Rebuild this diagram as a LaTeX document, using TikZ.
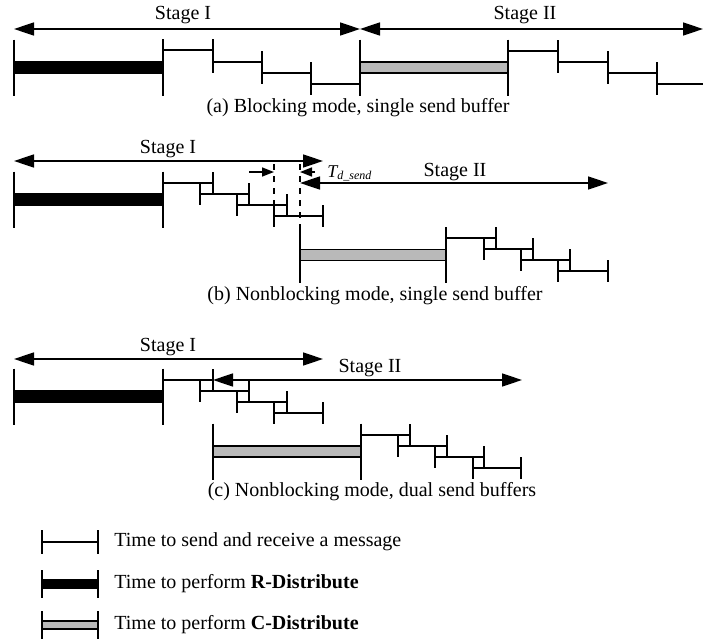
\documentclass[tikz,border=0pt]{standalone}
\usepackage{fontspec}
\setmainfont{Liberation Serif}
\usetikzlibrary{arrows.meta}

% one message: start tick, line, end tick
\newcommand{\sendmsg}[3]{\draw[msg] (#1,#3-11) -- (#1,#3+11) (#1,#3) -- (#2,#3) (#2,#3-11) -- (#2,#3+11);}
% a distribute phase: bar with tall end ticks
\newcommand{\distbar}[4]{%
  \draw[#1] (#2,#4-5.5) rectangle (#3,#4+5.5);
  \draw[msg] (#2,#4-28) -- (#2,#4+28) (#3,#4-28) -- (#3,#4+28);}

\begin{document}
\begin{tikzpicture}[
    x=0.5pt, y=-0.5pt,
    msg/.style={line width=0.8pt},
    rbar/.style={fill=black, draw=black, line width=0.8pt},
    cbar/.style={fill=gray!55, draw=black, line width=0.8pt},
    stagearrow/.style={line width=0.8pt, {Triangle[length=10pt,width=6.5pt]}-{Triangle[length=10pt,width=6.5pt]}},
    tdarrow/.style={line width=0.8pt, -{Triangle[length=6pt,width=4.5pt]}},
    stagelabel/.style={font=\normalsize, inner sep=1pt},
    caption/.style={font=\normalsize, inner sep=1pt},
    legendtext/.style={font=\normalsize, anchor=west, inner sep=1pt}
]
\useasboundingbox (0,0) rectangle (703,643);

% (a) blocking mode
\draw[stagearrow] (14,29) -- (360,29);
\draw[stagearrow] (360,29) -- (703,29);
\node[stagelabel] (aI) at (183,15) {Stage I};
\node[stagelabel] (aII) at (525,15) {Stage II};
\distbar{rbar}{14}{163}{67.5}
\sendmsg{163}{213}{50}
\sendmsg{213}{262}{62}
\sendmsg{262}{311}{73}
\sendmsg{311}{360}{84}
\distbar{cbar}{360}{508}{67.5}
\sendmsg{508}{558}{51}
\sendmsg{558}{608}{62}
\sendmsg{608}{657}{73}
\draw[msg] (657,73) -- (657,95) (657,84) -- (703,84);
\node[caption] (acap) at (358,108) {(a) Blocking mode, single send buffer};

% (b) nonblocking mode, single buffer
\draw[stagearrow] (14,161) -- (323,161);
\node[stagelabel] (bI) at (168,149) {Stage I};
\distbar{rbar}{14}{163}{199.5}
\sendmsg{163}{213}{183}
\sendmsg{200}{249}{194}
\sendmsg{237}{287}{205}
\sendmsg{274}{323}{216}
\draw[msg, dashed] (274,164) -- (274,205);
\draw[msg, dashed] (300,164) -- (300,227);
\draw[tdarrow] (249,172) -- (274,172);
\draw[tdarrow] (315,172) -- (300,172);
\node[anchor=west, inner sep=1pt] (td) at (325,173) {\small\itshape T\textsubscript{d\_send}};
\draw[stagearrow] (300,183) -- (608,183);
\node[stagelabel] (bII) at (455,172) {Stage II};
\distbar{cbar}{300}{446}{255}
\sendmsg{446}{496}{238}
\sendmsg{484}{533}{249}
\sendmsg{521}{570}{260}
\sendmsg{558}{608}{271}
\node[caption] (bcap) at (375,296) {(b) Nonblocking mode, single send buffer};

% (c) nonblocking mode, dual buffers
\draw[stagearrow] (14,359) -- (323,359);
\node[stagelabel] (cI) at (168,347) {Stage I};
\distbar{rbar}{14}{163}{396.5}
\sendmsg{163}{213}{380}
\sendmsg{200}{249}{391}
\sendmsg{237}{287}{402}
\sendmsg{274}{323}{413}
\draw[stagearrow] (213,380) -- (522,380);
\node[stagelabel] (cII) at (370,368) {Stage II};
\distbar{cbar}{213}{361}{451.5}
\sendmsg{361}{410}{435}
\sendmsg{398}{447}{446}
\sendmsg{435}{484}{457}
\sendmsg{473}{521}{468}
\node[caption] (ccap) at (372,492) {(c) Nonblocking mode, dual send buffers};

% legend
\draw[msg] (42,530) -- (42,554) (42,542) -- (98,542) (98,530) -- (98,554);
\node[legendtext] (l1) at (112,542) {Time to send and receive a message};
\draw[rbar] (42,580) rectangle (98,588);
\draw[msg] (42,570) -- (42,598) (98,570) -- (98,598);
\node[legendtext] (l2) at (112,584) {Time to perform \textbf{R-Distribute}};
\draw[cbar] (42,621) rectangle (98,629);
\draw[msg] (42,611) -- (42,639) (98,611) -- (98,639);
\node[legendtext] (l3) at (112,625) {Time to perform \textbf{C-Distribute}};

\end{tikzpicture}
\end{document}
